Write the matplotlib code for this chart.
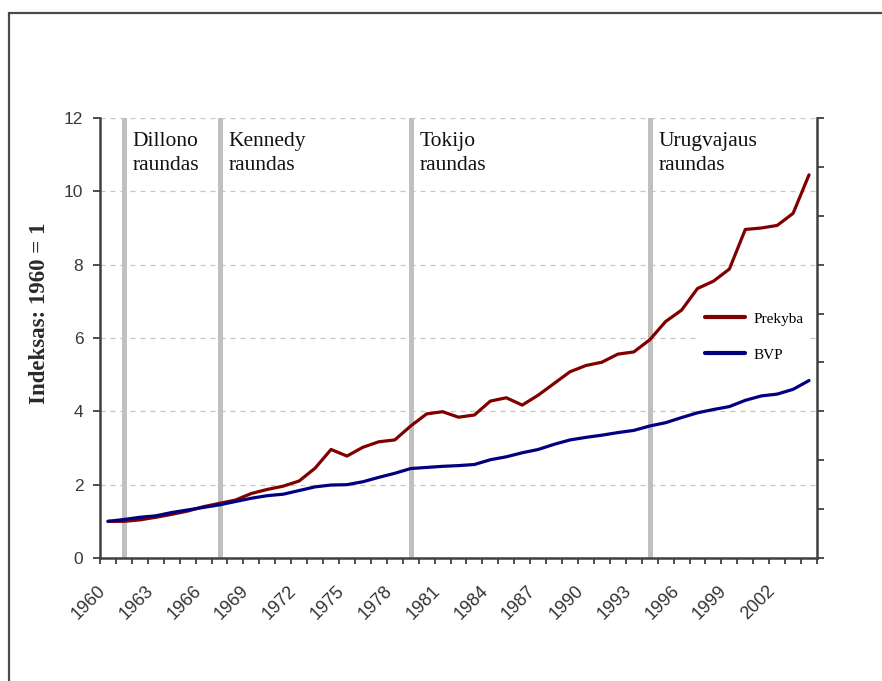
import matplotlib
matplotlib.use("Agg")
import matplotlib.pyplot as plt
from matplotlib.patches import Rectangle
from matplotlib.transforms import ScaledTranslation

# ---- data ----
years = list(range(1960, 2005))
prekyba = [1.00, 1.00, 1.04, 1.11, 1.19, 1.28, 1.40, 1.49, 1.58, 1.76,
           1.87, 1.96, 2.10, 2.45, 2.96, 2.78, 3.02, 3.17, 3.22, 3.60,
           3.93, 3.99, 3.84, 3.90, 4.28, 4.37, 4.17, 4.44, 4.76, 5.08,
           5.25, 5.34, 5.56, 5.62, 5.95, 6.45, 6.76, 7.35, 7.55, 7.88,
           8.96, 9.00, 9.07, 9.40, 10.45]
bvp = [1.00, 1.05, 1.11, 1.15, 1.24, 1.31, 1.38, 1.45, 1.54, 1.63,
       1.70, 1.74, 1.84, 1.94, 1.99, 2.00, 2.08, 2.20, 2.31, 2.44,
       2.47, 2.50, 2.52, 2.55, 2.68, 2.76, 2.87, 2.96, 3.10, 3.22,
       3.29, 3.35, 3.42, 3.48, 3.60, 3.69, 3.83, 3.96, 4.05, 4.13,
       4.30, 4.42, 4.47, 4.60, 4.84]
series_names = ["Prekyba", "BVP"]
round_names = ["Dillono\nraundas", "Kennedy\nraundas", "Tokijo\nraundas", "Urugvajaus\nraundas"]
round_end_years = [1961, 1967, 1979, 1994]
label_years = list(range(1960, 2005, 3))
y_ticks = [0, 2, 4, 6, 8, 10, 12]
y_label = "Indeksas: 1960 = 1"

# ---- figure ----
W, H = 882, 681
fig = plt.figure(figsize=(W / 100, H / 100), dpi=100)
fig.patch.set_facecolor("white")

# outer frame
fig.add_artist(Rectangle((9 / W, -0.2), 1.5, 1 - 13 / H + 0.2, transform=fig.transFigure,
                         fill=False, edgecolor="#4a4a4a", linewidth=1.6))

ax = fig.add_axes([100 / W, 1 - 558 / H, (817 - 100) / W, (558 - 118) / H])
ax.set_facecolor("white")

red = "#800000"
blue = "#000080"
spine_c = "#404040"

# gridlines
for v in y_ticks[1:]:
    ax.axhline(v, color="#c4c4c4", lw=0.9, ls=(0, (4, 4)), zorder=0)

# round lines
for yr, nm in zip(round_end_years, round_names):
    ax.axvline(yr, color="#c0c0c0", lw=3.6, zorder=1)
    ax.text(yr + 0.55, 11.62, nm, ha="left", va="top", fontsize=15.5,
            family="Liberation Serif", color="#111111", linespacing=1.35, zorder=3)

l1, = ax.plot(years, prekyba, color=red, lw=2.3, zorder=4, solid_capstyle="round")
l2, = ax.plot(years, bvp, color=blue, lw=2.3, zorder=5, solid_capstyle="round")

ax.set_xlim(1959.5, 2004.5)
ax.set_ylim(0, 12)

# spines
for s in ["top", "right"]:
    ax.spines[s].set_visible(False)
for s in ["left", "bottom"]:
    ax.spines[s].set_color(spine_c)
    ax.spines[s].set_linewidth(1.8)

# x ticks: marks at category boundaries, labels at centers
ax.set_xticks([y - 0.5 for y in years] + [years[-1] + 0.5])
ax.set_xticklabels([])
ax.tick_params(axis="x", which="major", direction="out", length=4, width=1.3, color=spine_c)
ax.set_xticks(label_years, minor=True)
ax.set_xticklabels([str(y) for y in label_years], minor=True)
ax.tick_params(axis="x", which="minor", length=0, pad=22, labelsize=13, labelcolor="#333333")
shift = ScaledTranslation(-5 / 100, 0, fig.dpi_scale_trans)
for t in ax.get_xticklabels(minor=True):
    t.set_rotation(45)
    t.set_ha("right")
    t.set_va("center")
    t.set_rotation_mode("anchor")
    t.set_family("Liberation Sans")
    t.set_transform(t.get_transform() + shift)

ax.set_yticks(y_ticks)
ax.set_yticklabels([str(v) for v in y_ticks])
ax.tick_params(axis="y", direction="out", length=5, width=1.3, color=spine_c,
               pad=7, labelsize=12.5, labelcolor="#3a3a3a")
for t in ax.get_yticklabels():
    t.set_family("Liberation Sans")

# secondary axis (ticks only)
ax2 = ax.twinx()
ax2.set_ylim(0, 9)
ax2.set_yticks(range(10))
ax2.set_yticklabels([])
ax2.tick_params(axis="y", direction="out", length=5, width=1.3, color=spine_c)
for s in ["top", "left", "bottom"]:
    ax2.spines[s].set_visible(False)
ax2.spines["right"].set_color(spine_c)
ax2.spines["right"].set_linewidth(1.8)

# y label
fig.text(40 / W, 1 - 313 / H, y_label, rotation=90, ha="center", va="center",
         fontsize=16.5, fontweight="bold", family="Liberation Serif", color="#2a2a2a")

# legend
leg = ax2.legend([l1, l2], series_names, loc="upper left",
                 bbox_to_anchor=(699 / W, 1 - 306 / H), bbox_transform=fig.transFigure,
                 frameon=True, fancybox=False, borderaxespad=0, borderpad=0.4,
                 handlelength=2.6, handletextpad=0.6, labelspacing=1.45,
                 prop={"family": "Liberation Serif", "size": 11})
leg.get_frame().set_edgecolor("none")
leg.get_frame().set_facecolor("white")
leg.get_frame().set_alpha(1)
for h in leg.legend_handles:
    h.set_linewidth(3)

fig.savefig("out.png", dpi=100)
